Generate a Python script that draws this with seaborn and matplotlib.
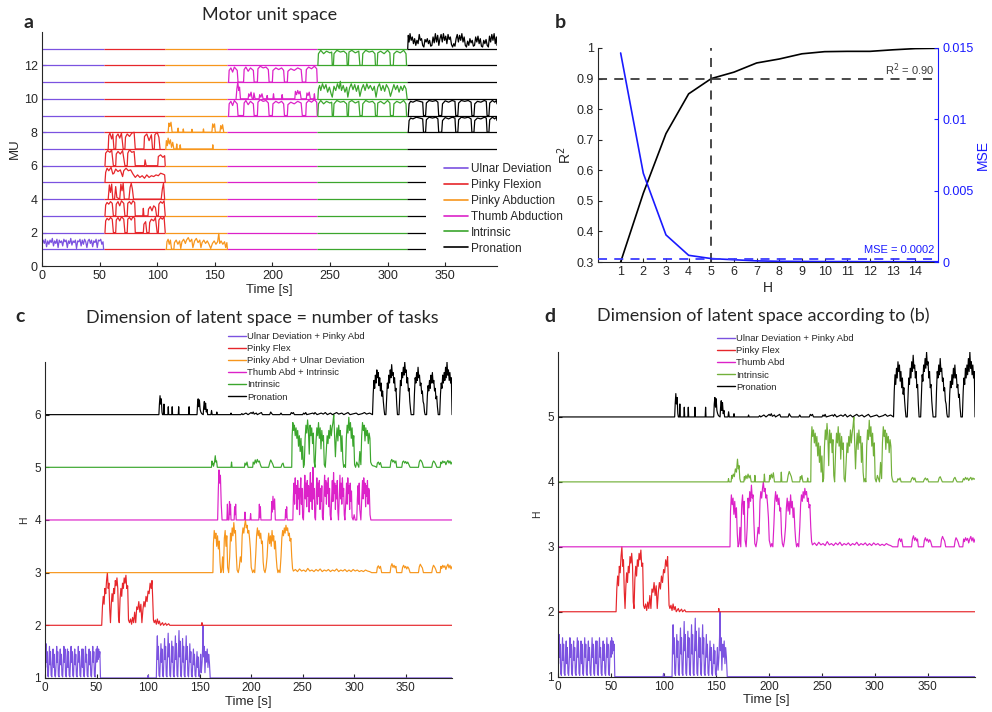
import numpy as np
import pandas as pd
import matplotlib
matplotlib.use("Agg")
import matplotlib.pyplot as plt
import seaborn as sns
from matplotlib.lines import Line2D
from matplotlib.patches import Rectangle

sns.set_theme(style="white")
plt.rcParams['font.family'] = ['Liberation Sans', 'DejaVu Sans']

# --- panel a: tasks ---
tasks = ["Ulnar Deviation", "Pinky Flexion", "Pinky Abduction",
         "Thumb Abduction", "Intrinsic", "Pronation"]
task_colors = ["#7b52e0", "#e6262b", "#f7961c", "#dc22c8", "#3ba62d", "#000000"]
task_edges = [0, 54, 107, 161, 239, 317, 395]

# active segments of the motor units (time [s], height above baseline)
ud_a = [(0, 0.3), (1, 0.55), (2, 0.35), (3, 0.6), (4, 0.15), (5, 0.5), (6, 0.3), (7, 0.55), (8, 0.4),
        (9, 0.65), (10, 0.2), (11, 0.5), (12, 0.35), (13, 0.6), (14, 0.1), (15, 0.55), (16, 0.4),
        (17, 0.5), (18, 0.2), (19, 0.6), (20, 0.45), (21, 0.55), (22, 0.1), (23, 0.5), (24, 0.35),
        (25, 0.65), (26, 0.25), (27, 0.5), (28, 0.4), (29, 0.55), (30, 0.05), (31, 0.5), (32, 0.45),
        (33, 0.6), (34, 0.2), (35, 0.55), (36, 0.3), (37, 0.6), (38, 0.45), (39, 0.1), (40, 0.5),
        (41, 0.6), (42, 0.35), (43, 0.55), (44, 0.15), (45, 0.5), (46, 0.4), (47, 0.6), (48, 0.1),
        (49, 0.55), (50, 0.5), (51, 0.6), (52, 0.3), (53, 0.45), (53.5, 0)]
pa_a = [(108, 0), (108.5, 0.45), (109.5, 0.6), (110.5, 0.3), (111.5, 0.55), (112.5, 0), (114.5, 0),
        (115, 0.4), (116.5, 0.55), (118, 0.3), (119.5, 0.5), (120.5, 0.05), (121.5, 0.45), (123, 0.6),
        (124.5, 0.35), (125.5, 0.55), (127, 0.7), (128.5, 0.45), (130, 0.6), (131, 0.1), (132.5, 0.5),
        (134, 0.65), (135.5, 0.4), (137, 0.55), (138, 0.1), (139, 0.4), (140.5, 0.55), (142, 0.35),
        (143.5, 0.5), (145, 0.3), (146.5, 0.05), (148, 0.35), (149.5, 0.5), (151, 0.3), (152.5, 0.45),
        (153.5, 0.95), (154.3, 0.35), (155.5, 0.5), (157, 0.3), (158.5, 0.45), (159.5, 0.1),
        (160.5, 0.4), (161, 0)]
pf_a = [(54.7, 0), (55.3, 0.7), (56.5, 0.85), (58, 0.75), (59.5, 0.9), (61, 0.8), (62, 0),
        (64, 0), (64.5, 0.75), (66, 0.9), (67.5, 0.7), (69, 0.95), (71, 0.8), (72, 0),
        (74, 0), (74.5, 0.8), (76, 0.9), (77.5, 0.75), (79, 0.95), (80.5, 0.85), (81, 0),
        (88, 0), (88.5, 0.5), (90, 0.65), (91, 0),
        (93, 0), (93.5, 0.6), (95, 0.8), (97, 0.7), (98.5, 0.9), (100, 0),
        (101, 0), (101.5, 0.75), (103, 0.9), (104.5, 0.8), (106, 0.95), (107, 0)]
pf_b = [(54.7, 0), (55.3, 0.65), (56.5, 0.8), (58, 0.7), (59.5, 0.85), (61, 0.75), (62, 0),
        (64, 0), (64.5, 0.7), (66, 0.85), (67.5, 0.6), (69, 0.9), (71, 0.75), (72, 0),
        (74, 0), (74.5, 0.75), (76, 0.85), (77.5, 0.7), (79, 0.9), (80.5, 0.8), (81, 0),
        (87.5, 0), (88, 0.45), (88.5, 0),
        (92, 0), (92.5, 0.4), (94, 0.55), (95.5, 0.3), (97, 0.6), (98.5, 0.5), (99.5, 0),
        (101, 0), (101.5, 0.7), (103, 0.85), (104.5, 0.75), (106, 0.9), (107, 0)]
pf_spk = [(57.5, 0), (58.5, 0.85), (59.5, 0.4), (60.5, 0.9), (61.5, 0), (63, 0), (64, 0.75),
          (65, 0.1), (67.5, 0), (68.5, 0.9), (69.5, 0.5), (70.5, 0.95), (71.5, 0), (75.5, 0),
          (76.5, 0.7), (77.5, 0.95), (78.5, 0.6), (79.5, 0), (103.5, 0), (104.5, 0.6), (105.5, 0.95),
          (106.5, 0)]
pf_c = [(54.7, 0), (55.3, 0.6), (56.5, 0.85), (58, 0.7), (60, 0.9), (61.5, 0.5), (62.5, 0.55),
        (64, 0.8), (66, 0.65), (68, 0.75), (70, 0.35), (71, 0.7), (73, 0.85), (75, 0.7), (77, 0.75),
        (79, 0.5), (81, 0.3), (83, 0.45), (85, 0.3), (87, 0.4), (89, 0.25), (91, 0.45), (93, 0.3),
        (95, 0.4), (97, 0.35), (99, 0.45), (101, 0.4), (103, 0.55), (105, 0.5), (106.5, 0.45),
        (107, 0)]
pf_d = [(54.7, 0), (55.3, 0.75), (57, 0.9), (59, 0.8), (60.5, 0.95), (62, 0), (64, 0), (64.5, 0.7),
        (66, 0.85), (68, 0.7), (70, 0.9), (72, 0), (74, 0), (74.5, 0.75), (76, 0.95), (78, 0.8),
        (80, 0.85), (81, 0), (89, 0), (89.5, 0.35), (90.5, 0), (100.5, 0), (101, 0.55), (103, 0.65),
        (105, 0.5), (106.5, 0.6), (107, 0)]
pf_e = [(57.5, 0), (58, 0.8), (59, 0.95), (60.5, 0.6), (61.5, 0.9), (62.5, 0), (64, 0), (64.5, 0.75),
        (66, 0.9), (67.5, 0.65), (69, 0.95), (70.5, 0), (72, 0), (72.5, 0.7), (74, 0.9), (76, 0.75),
        (78, 0.95), (80, 1.0), (81, 0), (88.5, 0), (89, 0.75), (91, 0.9), (93, 0.5), (95, 0.85),
        (96, 0), (97.5, 0), (98, 0.85), (100, 1.0), (101.5, 0.7), (102.5, 0)]
pa_spk7 = [(107.5, 0), (108, 0.5), (108.8, 0.2), (109.5, 0.65), (110.5, 0.3), (111.5, 0.55),
           (112.5, 0.1), (113.5, 0.4), (114.5, 0), (116.5, 0), (117, 0.3), (117.5, 0), (119.5, 0),
           (120, 0.25), (120.5, 0), (148, 0), (148.3, 0.25), (148.6, 0)]
pa_spk8 = [(109.5, 0), (110.2, 0.55), (111, 0.35), (112, 0.6), (113, 0), (117.8, 0), (118.2, 0.25),
           (118.6, 0), (122.3, 0), (122.7, 0.2), (123.1, 0), (129.8, 0), (130.2, 0.18), (130.6, 0),
           (139.8, 0), (140.2, 0.2), (140.6, 0), (147.5, 0), (148.2, 0.5), (149, 0.3), (149.8, 0.5),
           (150.5, 0), (154.5, 0), (155.2, 0.4), (156, 0.2), (156.8, 0.45), (157.8, 0)]
ta_a = [(162, 0), (162.5, 0.7), (164, 0.85), (165.5, 0.6), (167, 0.9), (169.5, 0.7), (170.2, 0),
        (175, 0), (175.5, 0.75), (177, 0.9), (179, 0.65), (181, 0.85), (183.5, 0.7), (184.2, 0),
        (187, 0), (187.5, 0.8), (189.5, 0.95), (192, 0.85), (194.5, 0.9), (196.5, 0.75), (197.2, 0),
        (200, 0), (200.5, 0.7), (203, 0.85), (205.5, 0.75), (208, 0.85), (209.8, 0.7), (210.5, 0),
        (213, 0), (213.5, 0.65), (216, 0.8), (219, 0.7), (222, 0.85), (225, 0.75), (226, 0),
        (229, 0), (229.5, 0.75), (231.5, 0.9), (234, 0.8), (236.5, 0.95), (238.5, 0.8), (239, 0)]
ta_spk = [(168.5, 0), (169.2, 0.6), (170, 1.0), (170.8, 0.5), (171.5, 0.7), (172.3, 0), (179, 0),
          (179.5, 0.3), (180.5, 0.15), (181.5, 0.4), (182.5, 0), (183.5, 0), (184, 0.35), (185, 0),
          (188.5, 0), (189, 0.25), (190, 0.1), (191, 0.3), (192, 0), (195, 0), (195.5, 0.2), (196, 0),
          (200.5, 0), (201, 0.3), (201.5, 0), (208, 0), (208.5, 0.25), (209, 0), (219.5, 0),
          (220, 0.45), (221, 0.25), (222, 0.5), (223, 0.3), (224, 0.45), (225, 0), (229.5, 0),
          (230, 0.35), (231, 0.2), (232, 0.4), (233, 0), (236, 0), (236.5, 0.3), (237, 0)]
in_a = [(239.5, 0), (240, 0.7), (242, 0.9), (244.5, 0.7), (247, 0.85), (250, 0.75), (251.5, 0.8),
        (252, 0), (253, 0), (253.5, 0.7), (256, 0.9), (259, 0.8), (262, 0.85), (264.5, 0.7), (265, 0),
        (266, 0), (266.5, 0.8), (269, 0.9), (272, 0.75), (275, 0.85), (276, 0), (278, 0), (278.5, 0.7),
        (281, 0.9), (284, 0.8), (287, 0.85), (289, 0.7), (289.5, 0), (291, 0), (291.5, 0.75),
        (294, 0.85), (297, 0.7), (300, 0.9), (302, 0.75), (302.5, 0), (305, 0), (305.5, 0.7),
        (308, 0.85), (311, 0.75), (314, 0.9), (316, 0.7), (316.5, 0)]
in_b = [(239.5, 0), (240, 0.6), (241, 0.8), (242, 0.5), (243.5, 0.9), (245, 0.6), (246.5, 0.85),
        (248, 0.4), (249.5, 0.7), (251, 0.3), (252, 0.1), (253.5, 0.75), (255, 0.5), (256.5, 0.9),
        (258, 0.6), (259, 1.05), (260, 0.5), (261.5, 0.8), (263, 0.4), (264.5, 0.7), (265.5, 0.1),
        (267, 0.65), (268.5, 0.9), (270, 0.55), (271.5, 0.85), (273, 0.45), (274.5, 0.8), (276, 0.15),
        (277.5, 0.6), (279, 0.85), (280.5, 0.5), (282, 0.9), (283.5, 0.6), (285, 0.8), (287, 0.5),
        (288.5, 0.75), (290, 0.1), (291.5, 0.7), (293, 0.9), (294.5, 0.5), (296, 0.8), (297.5, 0.45),
        (299, 0.85), (301, 0.6), (302.5, 0.15), (304, 0.5), (305.5, 0.85), (307, 0.55), (308.5, 0.8),
        (310, 0.4), (311.5, 0.75), (313, 0.5), (314.5, 0.8), (316, 0.6), (317, 0)]
pr_a = [(318, 0), (318.7, 0.7), (320, 0.85), (322, 0.8), (325, 0.9), (328, 0.85), (330.5, 0.8),
        (331.2, 0), (333, 0), (333.7, 0.75), (336, 0.9), (339, 0.85), (342, 0.9), (343.7, 0.8),
        (344.4, 0), (347, 0), (347.7, 0.7), (350, 0.88), (353, 0.8), (356, 0.9), (358.5, 0.85),
        (359.2, 0), (361, 0), (361.7, 0.75), (364, 0.9), (367, 0.85), (370, 0.9), (372.5, 0.8),
        (373.2, 0), (375, 0), (375.7, 0.7), (378, 0.85), (381, 0.8), (384, 0.9), (385.7, 0.85),
        (386.4, 0), (388, 0), (388.7, 0.75), (391, 0.9), (393, 0.8), (394.5, 0.9), (395, 0.7)]
pr_b = [(317.5, 0), (318, 0.8), (318.7, 0.4), (319.5, 0.9), (320.5, 0.5), (321.5, 0.7), (322.5, 0.3),
        (323.5, 0.6), (324.5, 0.2), (325.5, 0.5), (326.5, 0.3), (327.5, 0.85), (328.5, 0.5),
        (329.5, 0.6), (330.5, 0.2), (331.5, 0.1), (332.5, 0.55), (333.5, 0.4), (334.5, 0.6),
        (335.5, 0.3), (336.5, 0.5), (337.5, 0.15), (338.5, 0.2), (339.5, 0.7), (340.5, 0.35),
        (341.5, 0.9), (342.5, 0.4), (343.5, 0.8), (344.5, 0.2), (345.5, 0.6), (346.5, 0.85),
        (347.5, 0.4), (348.5, 0.9), (349.5, 0.5), (350.5, 0.75), (351.5, 0.3), (352.5, 0.85),
        (353.5, 0.55), (354.5, 0.7), (355.5, 0.25), (356.5, 0.1), (357.5, 0.3), (358.5, 0.15),
        (359.5, 0.6), (360.5, 0.85), (361.5, 0.4), (362.5, 0.8), (363.5, 0.5), (364.5, 0.9),
        (365.5, 0.4), (366.5, 0.7), (367.5, 0.2), (368.5, 0.1), (369.5, 0.45), (370.5, 0.2),
        (371.5, 0.6), (372.5, 0.35), (373.5, 0.5), (374.5, 0.15), (375.5, 0.2), (376.5, 0.7),
        (377.5, 0.4), (378.5, 0.75), (379.5, 0.3), (380.5, 0.6), (381.5, 0.15), (382.5, 0.1),
        (383.5, 0.5), (384.5, 0.3), (385.5, 0.55), (386.5, 0.2), (387.5, 0.1), (388.5, 0.75),
        (389.5, 0.4), (390.5, 0.85), (391.5, 0.5), (392.5, 0.9), (393.5, 0.3), (394.5, 0.7),
        (395, 0.2)]

# which segments belong to which motor unit (1..13)
mu_segments = {1: [ud_a, pa_a], 2: [pf_a], 3: [pf_b], 4: [pf_spk], 5: [pf_c], 6: [pf_d],
               7: [pf_e, pa_spk7], 8: [pa_spk8, pr_a], 9: [ta_a, in_a, pr_a],
               10: [ta_spk, in_b], 11: [ta_a], 12: [in_a], 13: [pr_b]}

# --- panel b ---
h_values = list(range(1, 16))
r2_values = [0.30, 0.525, 0.72, 0.85, 0.90, 0.921, 0.951, 0.964, 0.981, 0.988,
             0.989, 0.989, 0.994, 0.998, 0.999]
mse_values = [0.01465, 0.00622, 0.00190, 0.00047, 0.00024, 0.00016, 0.00008, 0.00005,
              0.00004, 0.00003, 0.00003, 0.00002, 0.00002, 0.00002, 0.00002]
r2_threshold = 0.90
mse_threshold = 0.0002
h_chosen = 5

# --- panels c and d: latent traces (time [s], height above baseline) ---
lat_ud = [(0, 0.4), (0.5, 0.2), (1, 0.65), (1.5, 0.3), (2, 0.5), (2.6, 0.05), (3.2, 0.02),
          (3.8, 0.35), (4.3, 0.6), (4.8, 0.25), (5.3, 0.5), (5.9, 0.05), (6.6, 0.02),
          (7.3, 0.4), (7.8, 0.55), (8.3, 0.2), (8.8, 0.45), (9.4, 0.05), (10.1, 0.02),
          (10.8, 0.3), (11.3, 0.6), (11.8, 0.3), (12.3, 0.5), (12.9, 0.05), (13.6, 0.02),
          (14.3, 0.4), (14.8, 0.55), (15.3, 0.25), (15.8, 0.45), (16.4, 0.05), (17.1, 0.02),
          (17.8, 0.35), (18.3, 0.6), (18.8, 0.3), (19.3, 0.55), (19.9, 0.05), (20.6, 0.02),
          (21.3, 0.4), (21.8, 0.55), (22.3, 0.2), (22.8, 0.5), (23.4, 0.05), (24.1, 0.02),
          (24.8, 0.35), (25.3, 0.6), (25.8, 0.3), (26.3, 0.5), (26.9, 0.05), (27.6, 0.02),
          (28.3, 0.4), (28.8, 0.55), (29.3, 0.25), (29.8, 0.45), (30.4, 0.05), (31.1, 0.02),
          (31.8, 0.35), (32.3, 0.6), (32.8, 0.3), (33.3, 0.5), (33.9, 0.05), (34.6, 0.02),
          (35.3, 0.4), (35.8, 0.55), (36.3, 0.2), (36.8, 0.55), (37.4, 0.05), (38.1, 0.02),
          (38.8, 0.35), (39.3, 0.6), (39.8, 0.3), (40.3, 0.45), (40.9, 0.05), (41.6, 0.02),
          (42.3, 0.4), (42.8, 0.55), (43.3, 0.25), (43.8, 0.5), (44.4, 0.05), (45.1, 0.02),
          (45.8, 0.35), (46.3, 0.6), (46.8, 0.3), (47.3, 0.5), (47.9, 0.05), (48.6, 0.02),
          (49.3, 0.4), (49.8, 0.55), (50.3, 0.3), (50.8, 0.6), (51.4, 0.35), (52, 0.55),
          (52.6, 0.4), (53.2, 0.5), (53.8, 0), (99.5, 0), (100, 0.05), (100.5, 0),
          (108, 0), (108.5, 0.5), (109, 0.8), (109.5, 0.35), (110, 0.6), (110.6, 0.05), (111.3, 0.02),
          (112, 0.4), (112.5, 0.65), (113, 0.3), (113.5, 0.55), (114.1, 0.05), (114.8, 0.02),
          (115.5, 0.45), (116, 0.75), (116.5, 0.35), (117, 0.6), (117.6, 0.05), (118.3, 0.02),
          (119, 0.5), (119.5, 0.85), (120, 0.4), (120.5, 0.65), (121.1, 0.05), (121.8, 0.02),
          (122.5, 0.45), (123, 0.7), (123.5, 0.3), (124, 0.6), (124.6, 0.05), (125.3, 0.02),
          (126, 0.5), (126.5, 0.8), (127, 0.35), (127.5, 0.65), (128.1, 0.05), (128.8, 0.02),
          (129.5, 0.55), (130, 0.9), (130.5, 0.4), (131, 0.7), (131.6, 0.05), (132.3, 0.02),
          (133, 0.45), (133.5, 0.75), (134, 0.3), (134.5, 0.6), (135.1, 0.05), (135.8, 0.02),
          (136.5, 0.5), (137, 0.8), (137.5, 0.35), (138, 0.6), (138.6, 0.05), (139.3, 0.02),
          (140, 0.4), (140.5, 0.65), (141, 0.3), (141.5, 0.5), (142.1, 0.05), (142.8, 0.02),
          (143.5, 0.35), (144, 0.55), (144.5, 0.25), (145, 0.45), (145.6, 0.05), (146.3, 0.02),
          (147, 0.3), (147.5, 0.5), (148, 0.2), (148.5, 0.4), (149.1, 0.05), (149.8, 0.02),
          (150.5, 0.25), (151, 0.45), (151.6, 0.1), (152.4, 0.3), (153, 0.6), (153.4, 1.0),
          (153.9, 0.4), (154.5, 0.6), (155.2, 0.1), (156, 0.5), (156.7, 0.3), (157.4, 0.55),
          (158.1, 0.2), (158.8, 0.45), (159.5, 0.3), (160.3, 0), (395, 0)]
lat_pf = [(0, 0), (55, 0), (55.7, 0.35), (56.5, 0.55), (57.3, 0.4), (58.1, 0.7), (58.9, 0.6),
          (59.7, 0.85), (60.5, 1.0), (61.3, 0.7), (62, 0.8), (62.8, 0.3), (63.5, 0.05), (64.3, 0.4),
          (65, 0.6), (65.8, 0.45), (66.6, 0.7), (67.4, 0.6), (68.2, 0.85), (69, 0.75), (69.8, 0.9),
          (70.6, 0.7), (71.3, 0.15), (72, 0.05), (72.8, 0.5), (73.6, 0.7), (74.4, 0.55), (75.2, 0.8),
          (76, 0.7), (76.8, 0.9), (77.6, 0.8), (78.5, 0.95), (79.3, 0.7), (80.2, 0.75), (81, 0.1),
          (82, 0.05), (83, 0.12), (84, 0.02), (85, 0.15), (86, 0.05), (87, 0.25), (88, 0.05),
          (89, 0.35), (90, 0.3), (91, 0.45), (92, 0.25), (93, 0.4), (94, 0.05), (95, 0.3), (96, 0.45),
          (97, 0.35), (98, 0.55), (99, 0.45), (100, 0.65), (101, 0.6), (102, 0.8), (103, 0.7),
          (103.8, 0.85), (104.5, 0.5), (105.2, 0.1), (106, 0.05), (107, 0.1), (108, 0.02),
          (109, 0.12), (110, 0.03), (111, 0.08), (112, 0), (114, 0.05), (115, 0), (117, 0.04),
          (118, 0), (120, 0.03), (121, 0), (152, 0), (152.3, 0.05), (152.6, 0), (395, 0)]
lat_ta = [(0, 0), (162.9, 0), (163.4, 0.55), (164.2, 0.8), (165, 0.65), (165.8, 0.75), (166.6, 0.5),
          (167.4, 0.7), (168.2, 0.45), (169, 0.6), (169.8, 0.2), (170.6, 0), (171.5, 0.05),
          (172.3, 0.3), (173.1, 0), (174, 0.65), (174.8, 0.8), (175.6, 0.5), (176.4, 0.7),
          (177.2, 0.1), (178.2, 0), (179.2, 0.3), (180, 0.75), (180.8, 0.6), (181.6, 0.85),
          (182.4, 0.7), (183.2, 0.95), (184, 0.75), (184.8, 0.8), (185.6, 0.35), (186.4, 0.05),
          (187.5, 0), (188.5, 0.1), (189.5, 0.3), (190.5, 0.2), (191.3, 0.7), (192.1, 0.85),
          (192.9, 0.75), (193.7, 0.9), (194.5, 1.0), (195.3, 0.85), (196.1, 0.9), (196.9, 0.75),
          (197.7, 0.8), (198.5, 0.65), (199.3, 0.45), (200.1, 0.1), (201.5, 0), (202.5, 0.05),
          (203.5, 0), (204.5, 0.35), (205.3, 0.7), (206.1, 0.85), (206.9, 0.7), (207.7, 0.8),
          (208.5, 0.65), (209.3, 0.75), (210.1, 0.55), (210.9, 0.6), (211.7, 0.2), (212.5, 0.05),
          (213.5, 0), (214.5, 0.1), (215.5, 0.3), (216.3, 0.6), (217.1, 0.75), (217.9, 0.55),
          (218.7, 0.7), (219.5, 0.5), (220.3, 0.8), (221.1, 0.6), (221.9, 0.7), (222.7, 0.45),
          (223.5, 0.6), (224.3, 0.3), (225.1, 0.1), (226, 0), (227, 0.05), (228, 0), (229, 0.3),
          (229.8, 0.65), (230.6, 0.8), (231.4, 0.7), (232.2, 0.85), (233, 0.75), (233.8, 0.9),
          (234.6, 0.8), (235.4, 0.85), (236.2, 0.7), (237, 0.75), (237.8, 0.6), (238.6, 0.65),
          (239.4, 0.3), (240.2, 0.08), (241, 0.03), (243, 0.06), (245, 0.02), (247, 0.07), (249, 0.03),
          (251, 0.05), (253, 0.02), (255, 0.08), (257, 0.03), (259, 0.05), (261, 0.02), (263, 0.06),
          (265, 0.03), (267, 0.07), (269, 0.02), (271, 0.05), (273, 0.03), (275, 0.06), (277, 0.02),
          (279, 0.05), (281, 0.03), (283, 0.07), (285, 0.02), (287, 0.05), (289, 0.03), (291, 0.06),
          (293, 0.02), (295, 0.05), (297, 0.02), (299, 0.06), (301, 0.03), (303, 0.05), (305, 0.02),
          (307, 0.04), (309, 0.02), (311, 0.05), (313, 0.03), (315, 0.02), (317, 0), (321.8, 0),
          (322.5, 0.1), (323.5, 0.13), (324.5, 0.08), (325.5, 0.12), (326.7, 0), (334.9, 0),
          (335.7, 0.12), (336.7, 0.17), (337.7, 0.1), (338.7, 0.14), (339.7, 0.09), (340.5, 0.12),
          (341.3, 0), (346.2, 0), (347, 0.1), (348, 0.14), (349, 0.09), (350, 0.12), (351, 0.07),
          (352, 0.11), (353, 0.08), (354.3, 0), (362.4, 0), (363.2, 0.11), (364.2, 0.16),
          (365.2, 0.12), (366.2, 0.09), (367.2, 0), (375.3, 0), (376.1, 0.09), (377, 0.14),
          (378, 0.11), (379, 0.07), (380.2, 0), (383.4, 0), (384.2, 0.12), (385, 0.08), (386, 0.14),
          (387, 0.1), (388, 0.13), (389, 0.06), (390, 0.12), (391, 0.16), (392, 0.09), (393, 0.14),
          (394, 0.07), (395, 0.12)]
lat_tai_c = [(0, 0), (167.5, 0), (168.2, 0.6), (168.8, 0.95), (169.5, 0.7), (170.2, 0.85),
             (171, 0.3), (171.8, 0), (176.5, 0), (177, 0.3), (177.5, 0), (178.5, 0), (179, 0.35),
             (179.5, 0.1), (180, 0.3), (180.5, 0), (183.5, 0), (184, 0.25), (184.5, 0.1), (185, 0.3),
             (185.5, 0), (193.5, 0), (194, 0.15), (194.5, 0), (199, 0), (199.5, 0.12), (200, 0),
             (207.5, 0), (208, 0.3), (208.5, 0.05), (209, 0.25), (209.5, 0), (219.5, 0), (220, 0.35),
             (220.5, 0.15), (221.2, 0.45), (222, 0.2), (222.8, 0.4), (223.5, 0), (233, 0),
             (233.5, 0.2), (234, 0.05), (234.5, 0.25), (235, 0), (240.5, 0), (241, 0.45),
             (241.6, 0.7), (242.2, 0.3), (242.8, 0.8), (243.4, 0.5), (244, 0.65), (244.6, 0.2),
             (245.2, 0.75), (245.8, 0.4), (246.4, 0.6), (247, 0.1), (247.6, 0.55), (248.2, 0.8),
             (248.8, 0.3), (249.4, 0.6), (250, 0.05), (250.8, 0), (251.5, 0.5), (252.1, 0.85),
             (252.7, 0.4), (253.3, 0.7), (253.9, 0.25), (254.5, 0.75), (255.1, 0.45), (255.7, 0.65),
             (256.3, 0.15), (256.9, 0.6), (257.5, 0.9), (258.1, 0.35), (258.7, 0.7), (259.3, 0.2),
             (260, 1.0), (260.6, 0.4), (261.2, 0.6), (261.8, 0.05), (262.5, 0), (263.2, 0.55),
             (263.8, 0.8), (264.4, 0.3), (265, 0.7), (265.6, 0.45), (266.2, 0.75), (266.8, 0.2),
             (267.4, 0.6), (268, 0.35), (268.6, 0.65), (269.2, 0.05), (270, 0), (270.7, 0.5),
             (271.3, 0.85), (271.9, 0.45), (272.5, 0.75), (273.1, 0.3), (273.7, 0.7), (274.3, 0.5),
             (274.9, 0.8), (275.5, 0.25), (276.1, 0.6), (276.7, 0.1), (277.5, 0), (278.2, 0.45),
             (278.8, 0.75), (279.4, 0.35), (280, 0.9), (280.6, 0.5), (281.2, 0.7), (281.8, 0.2),
             (282.4, 0.65), (283, 0.4), (283.6, 0.75), (284.2, 0.15), (284.8, 0), (285.6, 0.5),
             (286.2, 0.85), (286.8, 0.4), (287.4, 0.7), (288, 0.3), (288.6, 0.8), (289.2, 0.45),
             (289.8, 0.6), (290.4, 0.1), (291, 0), (292, 0.4), (292.6, 0.7), (293.2, 0.3),
             (293.8, 0.8), (294.4, 0.5), (295, 0.65), (295.6, 0.2), (296.2, 0.7), (296.8, 0.35),
             (297.4, 0.55), (298, 0.05), (299, 0), (300, 0.1), (301, 0), (302.5, 0), (303.1, 0.4),
             (303.7, 0.65), (304.3, 0.3), (304.9, 0.7), (305.5, 0.2), (306.5, 0), (307.5, 0.45),
             (308.1, 0.75), (308.7, 0.4), (309.3, 0.8), (309.9, 0.5), (310.5, 0.7), (311.1, 0.25),
             (311.7, 0.65), (312.3, 0.45), (312.9, 0.75), (313.5, 0.3), (314.1, 0.6), (314.7, 0.55),
             (315.4, 0.1), (316.2, 0), (395, 0)]
green_pre_c = [(0, 0), (161.5, 0), (162, 0.12), (162.5, 0.05), (163, 0.08), (163.5, 0.02),
               (164.5, 0.1), (165.2, 0.22), (165.8, 0.1), (166.5, 0.12), (167.2, 0), (180.5, 0),
               (181, 0.1), (181.5, 0), (193.5, 0), (194, 0.08), (195, 0.04), (196, 0.1), (197, 0),
               (201.5, 0), (202, 0.1), (203, 0.06), (204, 0.14), (205, 0.08), (206, 0.15), (207, 0.1),
               (208, 0.12), (209, 0.05), (210, 0), (217, 0), (218, 0.08), (219, 0.14), (220, 0.1),
               (221, 0.06), (222, 0), (229, 0), (230, 0.06), (231, 0.08), (232, 0), (239.4, 0)]
green_pre_d = [(0, 0), (161, 0), (161.5, 0.05), (162, 0), (164, 0), (164.5, 0.1), (165, 0.05),
               (166, 0.12), (167, 0.08), (168, 0.2), (169, 0.15), (170, 0.35), (170.8, 0.2),
               (171.5, 0.25), (172.2, 0.05), (173, 0), (176, 0), (176.5, 0.08), (177, 0.03),
               (178, 0.1), (179, 0.05), (180, 0.12), (181, 0.06), (182, 0.1), (183, 0), (186, 0),
               (186.5, 0.1), (187, 0), (195, 0), (195.5, 0.12), (196, 0), (200, 0), (200.5, 0.1),
               (201, 0.04), (202, 0.12), (203, 0.06), (204, 0.14), (205, 0), (211, 0), (211.5, 0.15),
               (212, 0), (217, 0), (218, 0.1), (219, 0.16), (220, 0.12), (221, 0.08), (222, 0),
               (229, 0), (229.5, 0.08), (230, 0.04), (231, 0.1), (232, 0), (236, 0), (236.5, 0.06),
               (237, 0), (239.4, 0)]
green_active = [(239.8, 0.6), (240.5, 0.85), (241.2, 0.7), (242, 0.8), (242.8, 0.6), (243.6, 0.75),
                (244.4, 0.55), (245.2, 0.7), (246, 0.4), (246.8, 0.6), (247.6, 0.3), (248.4, 0.55),
                (249.2, 0.15), (250, 0.4), (250.8, 0), (251.6, 0.05), (252.4, 0.55), (253.2, 0.8),
                (254, 0.65), (254.8, 0.9), (255.6, 0.7), (256.4, 0.25), (257.2, 0.8), (258, 0.6),
                (258.8, 0.75), (259.6, 0.45), (260.4, 0.65), (261.2, 0.1), (262, 0), (263, 0.5),
                (263.8, 0.75), (264.6, 0.6), (265.4, 0.85), (266.2, 0.55), (267, 0.75), (267.8, 0.35),
                (268.6, 0.7), (269.4, 0.5), (270.2, 0.6), (271, 0.05), (272, 0), (273, 0.35),
                (273.8, 0.6), (274.6, 0.45), (275.4, 0.7), (276.2, 0.55), (277, 0.8), (277.8, 0.6),
                (278.6, 0.75), (279.4, 0.85), (280.2, 1.0), (281, 0.6), (281.8, 0.2), (282.6, 0.55),
                (283.4, 0.75), (284.2, 0.5), (285, 0.8), (285.8, 0.6), (286.6, 0.7), (287.4, 0.3),
                (288.2, 0.6), (289, 0.15), (289.8, 0), (290.8, 0.05), (291.6, 0), (292.4, 0.55),
                (293.2, 0.8), (294, 0.65), (294.8, 0.95), (295.6, 0.7), (296.4, 0.85), (297.2, 0.55),
                (298, 0.75), (298.8, 0.4), (299.6, 0.6), (300.4, 0.05), (301.4, 0), (302.5, 0.1),
                (303.5, 0.05), (304.5, 0), (305.5, 0.3), (306.5, 0.05), (307.3, 0.6), (308.1, 0.85),
                (308.9, 0.7), (309.7, 0.8), (310.5, 0.5), (311.3, 0.75), (312.1, 0.6), (312.9, 0.7),
                (313.7, 0.45), (314.5, 0.65), (315.3, 0.55), (316, 0.1)]
green_post_c = [(317, 0.05), (318, 0.03), (320, 0.02), (321.8, 0), (322.5, 0.08), (323.5, 0.1),
                (324.5, 0.05), (325.5, 0.09), (326.7, 0), (334.9, 0), (335.7, 0.12), (336.5, 0.15),
                (337.5, 0.1), (338.5, 0.13), (339.5, 0.08), (340.5, 0.12), (341.3, 0), (346.2, 0),
                (347, 0.1), (348, 0.12), (349, 0.08), (350, 0.11), (351, 0.07), (352, 0.1), (354.3, 0),
                (362.4, 0), (363.2, 0.1), (364.2, 0.14), (365.2, 0.12), (366.2, 0.08), (367.2, 0),
                (375.3, 0), (376.1, 0.08), (377, 0.12), (378, 0.1), (379, 0.06), (380.2, 0),
                (383.4, 0), (384.2, 0.1), (385, 0.07), (386, 0.12), (387, 0.09), (388, 0.11),
                (389, 0.05), (390, 0.1), (391, 0.13), (392, 0.08), (393, 0.12), (394, 0.06), (395, 0.1)]
green_post_d = [(316.5, 0.05), (317.5, 0), (321, 0), (322, 0.05), (323, 0.03), (324, 0.06), (325, 0),
                (334, 0), (335, 0.05), (336, 0.07), (337, 0.03), (338, 0.06), (339, 0), (346, 0),
                (347, 0.04), (348, 0.06), (349, 0.03), (350, 0.05), (351, 0), (360, 0), (361, 0.06),
                (362, 0.08), (363, 0.04), (364, 0), (374, 0), (375, 0.05), (376, 0.07), (377, 0.03),
                (378, 0), (383, 0), (384, 0.05), (385, 0.03), (386, 0.07), (387, 0.04), (388, 0.06),
                (389, 0.02), (390, 0.05), (391, 0.07), (392, 0.03), (393, 0.06), (394, 0.04), (395, 0.05)]
lat_pr = [(0, 0), (110.5, 0), (111, 0.2), (111.6, 0.36), (112.2, 0.2), (112.8, 0.3), (113.5, 0.05),
          (114, 0), (115, 0), (115.4, 0.2), (115.8, 0), (119.2, 0), (119.6, 0.15), (120, 0), (123, 0),
          (123.4, 0.15), (123.8, 0), (129.3, 0), (129.7, 0.15), (130.1, 0), (139.4, 0), (139.8, 0.15),
          (140.2, 0), (147.5, 0), (148, 0.2), (148.6, 0.3), (149.2, 0.15), (149.8, 0.28),
          (150.5, 0.1), (151.2, 0.05), (152, 0.02), (153.5, 0), (154, 0.15), (154.6, 0.25),
          (155.2, 0.1), (155.8, 0.22), (156.5, 0.05), (157.2, 0.1), (157.8, 0), (161, 0),
          (161.6, 0.08), (162.2, 0), (166.3, 0), (166.7, 0.05), (167.2, 0), (180, 0), (180.5, 0.03),
          (181, 0), (190, 0), (191, 0.02), (192, 0), (195, 0.03), (197, 0), (200, 0.04), (201, 0.02),
          (202, 0.05), (203, 0.01), (205, 0.03), (206, 0), (210, 0.04), (211, 0), (218, 0),
          (219, 0.05), (220, 0.02), (221, 0), (228, 0), (229, 0.03), (230, 0), (238, 0), (239, 0.04),
          (240, 0.02), (241, 0.04), (242, 0), (250, 0), (251, 0.03), (252, 0.01), (253, 0.04),
          (254, 0), (260, 0.03), (261, 0.01), (262, 0.04), (264, 0), (268, 0.03), (270, 0.01),
          (272, 0.04), (274, 0), (277, 0.03), (279, 0), (283, 0.04), (285, 0.01), (288, 0.03),
          (290, 0), (294, 0.04), (296, 0), (302, 0.03), (304, 0), (308, 0.02), (310, 0.04),
          (312, 0.01), (315, 0.03), (317.8, 0), (318.5, 0.4), (319.2, 0.65), (319.9, 0.5),
          (320.6, 0.75), (321.3, 0.6), (322, 0.85), (322.7, 0.7), (323.4, 0.8), (324.1, 0.55),
          (324.8, 0.7), (325.5, 0.45), (326.2, 0.6), (326.9, 0.35), (327.6, 0.45), (328.3, 0.25),
          (329, 0.1), (329.6, 0), (330.8, 0), (331.5, 0.3), (332.2, 0.6), (332.9, 0.5), (333.6, 0.75),
          (334.3, 0.6), (335, 0.85), (335.7, 0.7), (336.4, 0.95), (337.1, 0.75), (337.8, 0.8),
          (338.5, 0.6), (339.2, 0.7), (339.9, 0.45), (340.6, 0.5), (341.3, 0.2), (342, 0),
          (343.5, 0), (344.2, 0.35), (344.9, 0.65), (345.6, 0.55), (346.3, 0.8), (347, 0.7),
          (347.7, 0.9), (348.4, 0.75), (349.1, 1.0), (349.8, 0.8), (350.5, 0.85), (351.2, 0.6),
          (351.9, 0.7), (352.6, 0.45), (353.3, 0.5), (354, 0.25), (354.7, 0.1), (355.3, 0),
          (357.8, 0), (358.5, 0.4), (359.2, 0.7), (359.9, 0.6), (360.6, 0.8), (361.3, 0.65),
          (362, 0.9), (362.7, 0.7), (363.4, 0.75), (364.1, 0.55), (364.8, 0.6), (365.5, 0.4),
          (366.2, 0.45), (366.9, 0.25), (367.6, 0.2), (368.3, 0.05), (368.9, 0), (370.3, 0),
          (371, 0.35), (371.7, 0.55), (372.4, 0.45), (373.1, 0.65), (373.8, 0.5), (374.5, 0.75),
          (375.2, 0.6), (375.9, 0.8), (376.6, 0.6), (377.3, 0.65), (378, 0.45), (378.7, 0.5),
          (379.4, 0.3), (380.1, 0.35), (380.8, 0.15), (381.6, 0), (383, 0), (383.8, 0.4),
          (384.5, 0.6), (385.2, 0.5), (385.9, 0.75), (386.6, 0.6), (387.3, 0.8), (388, 0.65),
          (388.7, 0.9), (389.4, 0.7), (390.1, 1.0), (390.8, 0.75), (391.5, 0.85), (392.2, 0.65),
          (392.9, 0.8), (393.6, 0.6), (394.3, 0.7), (395, 0)]

labels_c = ["Ulnar Deviation + Pinky Abd", "Pinky Flex", "Pinky Abd + Ulnar Deviation",
            "Thumb Abd + Intrinsic", "Intrinsic", "Pronation"]
colors_c = ["#7b52e0", "#e6262b", "#f7961c", "#dc22c8", "#3ba62d", "#000000"]
traces_c = [lat_ud, lat_pf, lat_ta, lat_tai_c, green_pre_c + green_active + green_post_c, lat_pr]

labels_d = ["Ulnar Deviation + Pinky Abd", "Pinky Flex", "Thumb Abd", "Intrinsic", "Pronation"]
colors_d = ["#7b52e0", "#e6262b", "#dc22c8", "#72b03a", "#000000"]
traces_d = [lat_ud, lat_pf, lat_ta, green_pre_d + green_active + green_post_d, lat_pr]

AX_GRAY = "#262626"
TITLE_FONT = ["Lato", "DejaVu Sans"]


def style_axes(ax, fs):
    for s in ["top", "right"]:
        ax.spines[s].set_visible(False)
    for s in ["left", "bottom"]:
        ax.spines[s].set_color(AX_GRAY)
        ax.spines[s].set_linewidth(0.8)
    ax.tick_params(direction="in", length=3, width=0.8, labelsize=fs,
                   colors=AX_GRAY, left=True, bottom=True, pad=3)


def draw_trace(ax, knots, base, color, lw=0.9, z=2):
    df = pd.DataFrame(knots, columns=["t", "v"])
    df["y"] = df["v"] + base
    sns.lineplot(data=df, x="t", y="y", ax=ax, color=color, lw=lw,
                 sort=False, estimator=None, zorder=z)


fig = plt.figure(figsize=(9.92, 7.12), dpi=100)

# ---------------- panel a ----------------
ax_a = fig.add_axes([0.0423, 0.6264, 0.4587, 0.3287])
for mu in range(1, 14):
    for i in range(len(tasks)):
        ax_a.hlines(mu, task_edges[i], task_edges[i + 1], color=task_colors[i], lw=0.9, zorder=1)
    for seg in mu_segments[mu]:
        idx = np.searchsorted(task_edges, seg[0][0], side="right") - 1
        draw_trace(ax_a, seg, mu, task_colors[idx])
ax_a.set_xlim(0, 395)
ax_a.set_ylim(0, 14)
ax_a.set_xticks(range(0, 351, 50))
ax_a.set_yticks(range(0, 13, 2))
style_axes(ax_a, 9)
ax_a.set_xlabel("Time [s]", fontsize=9.5, color=AX_GRAY, labelpad=1)
ax_a.set_ylabel("MU", fontsize=9.5, color=AX_GRAY, labelpad=2)
# white legend box hides the ends of the lower rows
ax_a.add_patch(Rectangle((333.5, 0.45), 80, 5.95, facecolor="white", edgecolor="none",
                         zorder=4, clip_on=False))
handles_a = [Line2D([0], [0], color=c, lw=1.2) for c in task_colors]
ax_a.legend(handles_a, tasks, loc="upper left", bbox_to_anchor=(0.8835, 0.44),
            frameon=False, fontsize=8.5, handlelength=2.0, handletextpad=0.25,
            labelspacing=0.33, borderpad=0, borderaxespad=0).set_zorder(6)

# ---------------- panel b ----------------
ax_b = fig.add_axes([0.6028, 0.632, 0.3427, 0.3006])
df_b = pd.DataFrame({"H": h_values, "R2": r2_values, "MSE": mse_values})
sns.lineplot(data=df_b, x="H", y="R2", ax=ax_b, color="black", lw=1.2)
ax_b.axhline(r2_threshold, color="#3a3a3a", lw=1.3, ls=(0, (5, 4)))
ax_b.axvline(h_chosen, color="#3a3a3a", lw=1.3, ls=(0, (5, 4)))
ax_b.set_xlim(0, 15)
ax_b.set_ylim(0.3, 1.0)
ax_b.set_xticks(range(1, 15))
ax_b.set_yticks(np.round(np.arange(0.3, 1.01, 0.1), 1))
ax_b.set_yticklabels(["0.3", "0.4", "0.5", "0.6", "0.7", "0.8", "0.9", "1"])
style_axes(ax_b, 9)
ax_b.set_xlabel("H", fontsize=10, color=AX_GRAY, labelpad=2)
ax_b.set_ylabel("R$^2$", fontsize=10, color=AX_GRAY, labelpad=2)
ax_b.text(14.85, 0.928, "R$^2$ = 0.90", ha="right", va="center", fontsize=8, color="#3a3a3a")

ax_b2 = ax_b.twinx()
sns.lineplot(data=df_b, x="H", y="MSE", ax=ax_b2, color="#1a1aff", lw=1.2)
ax_b2.axhline(mse_threshold, color="#3c3cff", lw=1.3, ls=(0, (5, 4)))
ax_b2.set_ylim(0, 0.015)
ax_b2.set_yticks([0, 0.005, 0.01, 0.015])
ax_b2.set_yticklabels(["0", "0.005", "0.01", "0.015"])
for s in ["top", "left", "bottom"]:
    ax_b2.spines[s].set_visible(False)
ax_b2.spines["right"].set_color("#1a1aff")
ax_b2.spines["right"].set_linewidth(0.8)
ax_b2.tick_params(axis="y", direction="in", length=3, width=0.8, labelsize=9,
                  colors="#1a1aff", right=True, pad=3)
ax_b2.set_ylabel("MSE", fontsize=10, color="#1a1aff", labelpad=2)
ax_b2.text(14.85, 0.00084, "MSE = 0.0002", ha="right", va="center", fontsize=8, color="#1a1aff")

# ---------------- panels c and d ----------------
def latent_panel(rect, traces, colors, labels, ymax, leg_anchor):
    ax = fig.add_axes(rect)
    for k, (tr, col) in enumerate(zip(traces, colors)):
        draw_trace(ax, tr, k + 1, col, lw=0.85)
    ax.set_xlim(0, 395)
    ax.set_ylim(1, ymax)
    ax.set_xticks(range(0, 351, 50))
    ax.set_yticks(range(1, len(traces) + 1))
    style_axes(ax, 8.5)
    ax.set_xlabel("Time [s]", fontsize=9.5, color=AX_GRAY, labelpad=1)
    ax.set_ylabel("H", fontsize=7.5, color=AX_GRAY, labelpad=4)
    handles = [Line2D([0], [0], color=c, lw=1.0) for c in colors]
    ax.legend(handles, labels, loc="upper left", bbox_to_anchor=leg_anchor, frameon=False,
              fontsize=6.8, handlelength=1.9, handletextpad=0.15, labelspacing=0.33,
              borderpad=0, borderaxespad=0)
    return ax


ax_c = latent_panel([0.0454, 0.0478, 0.4103, 0.4438], traces_c, colors_c, labels_c, 7,
                    (0.4496, 1.095))
ax_d = latent_panel([0.5625, 0.0496, 0.4204, 0.456], traces_d, colors_d, labels_d, 6,
                    (0.381, 1.055))

# ---------------- titles and panel letters ----------------
H_FIG, W_FIG = 712, 992
def fig_text(x, y, s, **kw):
    fig.text(x / W_FIG, 1 - y / H_FIG, s, **kw)


fig_text(28, 22, "a", fontsize=14, fontweight="bold", ha="center", va="center", family=TITLE_FONT)
fig_text(560, 22, "b", fontsize=14, fontweight="bold", ha="center", va="center", family=TITLE_FONT)
fig_text(20, 316, "c", fontsize=14, fontweight="bold", ha="center", va="center", family=TITLE_FONT)
fig_text(550, 317, "d", fontsize=14, fontweight="bold", ha="center", va="center", family=TITLE_FONT)
fig_text(270, 15, "Motor unit space", fontsize=13, ha="center", va="center", family=TITLE_FONT)
fig_text(262, 318, "Dimension of latent space = number of tasks", fontsize=13, ha="center",
         va="center", family=TITLE_FONT)
fig_text(763, 316, "Dimension of latent space according to (b)", fontsize=13, ha="center",
         va="center", family=TITLE_FONT)

fig.savefig("out.png", dpi=100, facecolor="white")
